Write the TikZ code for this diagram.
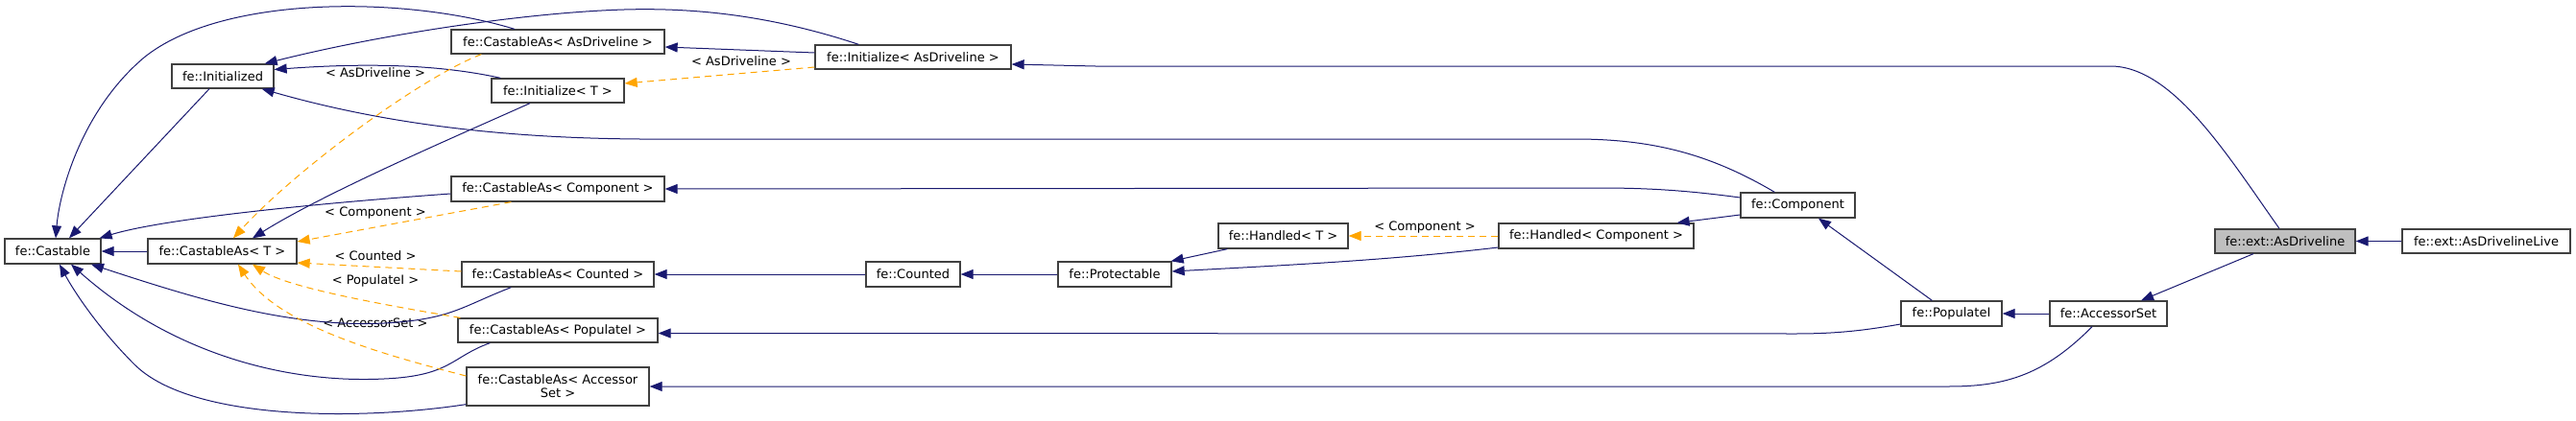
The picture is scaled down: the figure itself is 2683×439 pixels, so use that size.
\documentclass[tikz,border=0pt]{standalone}
\usepackage{fontspec}
\newfontfamily\dvs{DejaVu Sans}
\usetikzlibrary{arrows.meta,calc}
\definecolor{navy}{HTML}{191970}
\definecolor{dxorange}{HTML}{FFA500}
\definecolor{boxline}{HTML}{404040}
\definecolor{hlgray}{HTML}{BFBFBF}
\tikzset{
  cls/.style={draw=boxline, line width=1.3pt, fill=white, inner sep=0pt,
    font=\dvs\fontsize{13}{14}\selectfont, minimum height=26pt},
  inh/.style={draw=navy, line width=1pt, -{Triangle[length=13pt,width=10pt]}},
  tmpl/.style={draw=dxorange, line width=1pt, dash pattern=on 7pt off 5pt,
    -{Triangle[length=13pt,width=10pt]}},
  lbl/.style={font=\dvs\fontsize{13}{14}\selectfont, inner sep=0pt, text=black}
}
\begin{document}
\begin{tikzpicture}[x=1pt,y=-1pt]
\useasboundingbox (0,0) rectangle (2683,439);
\fill[white] (0,0) rectangle (2683,439);

% nodes
\node[cls, minimum width=100pt] (castable) at (55,262) {fe::Castable};
\node[cls, minimum width=155pt] (castT) at (231.5,262) {fe::CastableAs< T >};
\node[cls, minimum width=106pt, minimum height=25pt] (initd) at (232,79.5) {fe::Initialized};
\node[cls, minimum width=222pt, minimum height=25pt] (cAD) at (581,43.5) {fe::CastableAs< AsDriveline >};
\node[cls, minimum width=138pt, minimum height=25pt] (initT) at (581,94.5) {fe::Initialize< T >};
\node[cls, minimum width=222pt] (cComp) at (581,197) {fe::CastableAs< Component >};
\node[cls, minimum width=200pt] (cCnt) at (581,286) {fe::CastableAs< Counted >};
\node[cls, minimum width=208pt, minimum height=25pt] (cPop) at (581,344.5) {fe::CastableAs< PopulateI >};
\node[cls, minimum width=190pt, minimum height=40pt, align=center] (cAcc) at (581,403) {fe::CastableAs< Accessor\\Set >};
\node[cls, minimum width=204pt, minimum height=25pt] (initAD) at (951,59.5) {fe::Initialize< AsDriveline >};
\node[cls, minimum width=98pt] (counted) at (951,286) {fe::Counted};
\node[cls, minimum width=118pt] (prot) at (1161,286) {fe::Protectable};
\node[cls, minimum width=135pt] (hT) at (1336.5,246) {fe::Handled< T >};
\node[cls, minimum width=203pt] (hComp) at (1662.5,246) {fe::Handled< Component >};
\node[cls, minimum width=119pt] (comp) at (1872.5,214) {fe::Component};
\node[cls, minimum width=105pt] (popI) at (2032.5,327) {fe::PopulateI};
\node[cls, minimum width=122pt] (accSet) at (2196,327) {fe::AccessorSet};
\node[cls, minimum width=146pt, minimum height=25pt, fill=hlgray] (asDrv) at (2380,251.5) {fe::ext::AsDriveline};
\node[cls, minimum width=175pt, minimum height=25pt] (asDrvL) at (2589.5,251.5) {fe::ext::AsDrivelineLive};

% labels
\node[lbl] (l1) at (391,76) {< AsDriveline >};
\node[lbl] (l2) at (391,222) {< Component >};
\node[lbl] (l3) at (391,267) {< Counted >};
\node[lbl] (l4) at (391,293) {< PopulateI >};
\node[lbl] (l5) at (391,337) {< AccessorSet >};
\node[lbl] (l6) at (772,64) {< AsDriveline >};
\node[lbl] (l7) at (1484,237) {< Component >};

% inheritance edges (arrow at base class)
\draw[inh] (castT.west) -- (castable.east);
\draw[inh] ($(initd.south)+(-14,0)$) -- ($(castable.north)+(17,0)$);
\draw[inh] ($(cAD.north)+(-45,0)$) .. controls (420,-5) and (230,-5) .. (150,60)
  .. controls (85,115) and (62,200) .. ($(castable.north)+(3,0)$);
\draw[inh] ($(cComp.west)+(0,5)$) .. controls (330,212) and (170,228) .. ($(castable.north east)+(-2,0)$);
\draw[inh] ($(cCnt.south west)+(52,0)$) .. controls (480,320) and (470,333) .. (400,337)
  .. controls (300,342) and (200,310) .. ($(castable.south)+(40,0)$);
\draw[inh] ($(cPop.south west)+(34,0)$) .. controls (470,372) and (470,392) .. (400,395)
  .. controls (300,400) and (180,370) .. ($(castable.south)+(19,0)$);
\draw[inh] ($(cAcc.south west)+(0,-2)$) .. controls (380,438) and (200,440) .. (140,380)
  .. controls (100,340) and (75,300) .. ($(castable.south)+(7,0)$);

\draw[inh] ($(initT.north west)+(10,0)$) .. controls (470,70) and (400,64) .. ($(initd.east)+(0,-7)$);
\draw[inh] ($(initAD.north west)+(46,0)$) .. controls (800,15) and (720,8) .. (650,10)
  .. controls (550,13) and (400,35) .. ($(initd.north east)+(-10,0)$);
\draw[inh] ($(comp.north west)+(36,0)$) .. controls (1780,160) and (1720,145) .. (1640,145)
  -- (700,145) .. controls (560,146) and (420,135) .. ($(initd.south east)+(-13,0)$);

\draw[inh] ($(initT.south)+(-29,0)$) .. controls (480,140) and (340,200) .. ($(castT.north)+(31.5,0)$);

\draw[inh] ($(initAD.west)+(0,-4.5)$) -- ($(cAD.east)+(0,5.5)$);
\draw[inh] ($(asDrv.north)+(-6,0)$) .. controls (2320,162) and (2263,69) .. (2198,69)
  -- (1141,69) -- ($(initAD.east)+(0,7.5)$);
\draw[inh] ($(comp.west)+(0,-8)$) .. controls (1760,199) and (1720,196) .. (1666,196) -- (cComp.east);
\draw[inh] (counted.west) -- (cCnt.east);
\draw[inh] (prot.west) -- (counted.east);
\draw[inh] ($(hT.south west)+(10,0)$) -- ($(prot.north east)+(-1,0)$);
\draw[inh] ($(hComp.west)+(0,12)$) .. controls (1450,271) and (1350,276) .. ($(prot.east)+(0,-3)$);
\draw[inh] ($(comp.west)+(0,10)$) -- ($(hComp.north east)+(-18,0)$);
\draw[inh] ($(popI.north west)+(33,0)$) -- ($(comp.south)+(21.5,0)$);
\draw[inh] ($(popI.west)+(0,11)$) .. controls (1940,345) and (1910,348) .. (1870,348) -- ($(cPop.east)+(0,3)$);
\draw[inh] (accSet.west) -- (popI.east);
\draw[inh] ($(accSet.south)+(-17,0)$) .. controls (2130,390) and (2090,403) .. (2030,403) -- (cAcc.east);
\draw[inh] ($(asDrv.south)+(-33,0)$) -- ($(accSet.north)+(34,0)$);
\draw[inh] (asDrvL.west) -- (asDrv.east);

% template instantiation edges
\draw[tmpl] ($(cAD.south west)+(32,0)$) .. controls (440,80) and (310,175) .. ($(castT.north)+(11.5,0)$);
\draw[tmpl] ($(cComp.south west)+(63,0)$) -- ($(castT.east)+(0,-10)$);
\draw[tmpl] ($(cCnt.west)+(0,-3)$) -- ($(castT.east)+(0,12)$);
\draw[tmpl] ($(cPop.north west)+(3,0)$) .. controls (400,318) and (300,300) .. ($(castT.south)+(31.5,0)$);
\draw[tmpl] ($(cAcc.west)+(0,-11)$) .. controls (400,370) and (290,340) .. ($(castT.south)+(16.5,0)$);
\draw[tmpl] ($(initAD.west)+(0,10.5)$) -- ($(initT.east)+(0,-7.5)$);
\draw[tmpl] (hComp.west) -- (hT.east);
\end{tikzpicture}
\end{document}
